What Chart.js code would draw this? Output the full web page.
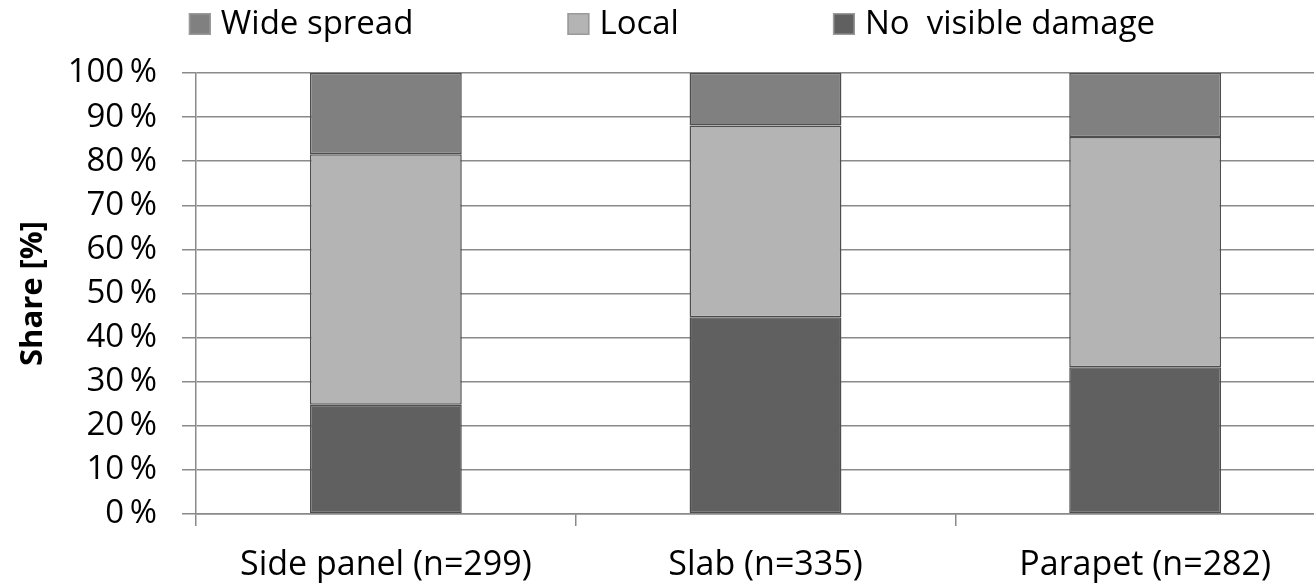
<!DOCTYPE html>
<html>
<head>
<meta charset="utf-8">
<script src="https://cdn.jsdelivr.net/npm/chart.js@4.4.1/dist/chart.umd.min.js"></script>
<style>
  html, body { margin: 0; padding: 0; background: #fff; overflow: hidden; }
  #wrap { width: 1335px; height: 585px; }
</style>
</head>
<body>
<div id="wrap"><canvas id="c" width="1335" height="585"></canvas></div>
<script>
const categories = ['Side panel (n=299)', 'Slab (n=335)', 'Parapet (n=282)'];
const noVisibleDamage = [24.8, 44.6, 33.3];
const local = [56.8, 43.5, 52.2];
const wideSpread = [18.4, 11.9, 14.5];
const seriesNames = ['No  visible damage', 'Local', 'Wide spread'];
const seriesColors = ['#606060', '#b4b4b4', '#808080'];
const yTicks = [0, 10, 20, 30, 40, 50, 60, 70, 80, 90, 100];

const FONT = "'Open Sans', 'DejaVu Sans', sans-serif";
const GRID = '#8a8a8a';

const legendRow = {
  id: 'legendRow',
  afterDraw(chart) {
    const ctx = chart.ctx;
    const items = chart.data.datasets.map(d => ({ text: d.label, color: d.backgroundColor })).reverse();
    ctx.save();
    ctx.font = '33px ' + FONT;
    const box = 22, gapText = 10, gap = 154;
    const widths = items.map(it => box + gapText + ctx.measureText(it.text).width);
    const total = widths.reduce((a, b) => a + b, 0) + gap * (items.length - 1);
    let x = 672 - total / 2;
    const cy = 24;
    items.forEach((it, i) => {
      ctx.fillStyle = it.color;
      ctx.fillRect(x, cy - box / 2, box, box);
      ctx.strokeStyle = '#9a9a9a';
      ctx.lineWidth = 1.5;
      ctx.strokeRect(x + 0.75, cy - box / 2 + 0.75, box - 1.5, box - 1.5);
      ctx.fillStyle = '#000';
      ctx.textBaseline = 'middle';
      ctx.textAlign = 'left';
      ctx.fillText(it.text, x + box + gapText, cy + 1);
      x += widths[i] + gap;
    });
    ctx.restore();
  }
};

new Chart(document.getElementById('c'), {
  type: 'bar',
  data: {
    labels: categories,
    datasets: [
      { label: seriesNames[0], data: noVisibleDamage, backgroundColor: seriesColors[0] },
      { label: seriesNames[1], data: local, backgroundColor: seriesColors[1] },
      { label: seriesNames[2], data: wideSpread, backgroundColor: seriesColors[2] }
    ].map(d => Object.assign(d, {
      borderColor: '#4e4e4e', borderWidth: 1.5, borderSkipped: false,
      categoryPercentage: 1.0, barPercentage: 0.4
    }))
  },
  options: {
    responsive: false,
    animation: false,
    layout: { padding: { top: 73, right: 0, bottom: 0, left: 0 } },
    plugins: { legend: { display: false }, tooltip: { enabled: false } },
    scales: {
      x: {
        stacked: true,
        offset: true,
        grid: { display: true, drawOnChartArea: false, drawTicks: true, tickLength: 12, color: GRID, lineWidth: 1.5, offset: true },
        border: { display: true, color: GRID, width: 1.5 },
        ticks: { color: '#000', font: { family: FONT, size: 34 }, padding: 19, maxRotation: 0 },
        afterFit(scale) { scale.height = 71; }
      },
      y: {
        stacked: true,
        min: 0, max: 100,
        afterBuildTicks(scale) { scale.ticks = yTicks.map(v => ({ value: v })); },
        grid: { color: GRID, lineWidth: 1.5, tickLength: 14 },
        border: { display: true, color: GRID, width: 1.5 },
        ticks: { color: '#000', font: { family: FONT, size: 33 }, padding: 25, callback: v => v + '\u2009%' },
        title: { display: true, text: 'Share [%]', color: '#000', font: { family: FONT, size: 31, weight: 'bold' }, padding: { top: 15, bottom: 0 } },
        afterFit(scale) { scale.width = 196; }
      }
    }
  },
  plugins: [legendRow]
});
</script>
</body>
</html>
